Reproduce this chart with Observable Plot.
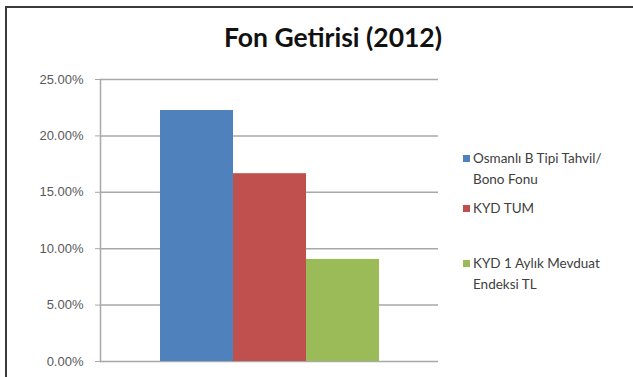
<!DOCTYPE html>
<html>
<head>
<meta charset="utf-8">
<script src="https://cdn.jsdelivr.net/npm/d3@7"></script>
<script src="https://cdn.jsdelivr.net/npm/@observablehq/plot@0.6"></script>
<style>
  html, body { margin: 0; padding: 0; background: #fff; }
  #wrap { position: relative; width: 633px; height: 377px; overflow: hidden; background: #fff; }
  #border { position: absolute; left: 5px; top: 6px; width: 640px; height: 400px; border-left: 2px solid #3a3a3a; border-top: 2px solid #3a3a3a; }
  #title { position: absolute; left: 0; width: 666px; top: 21px; text-align: center; font-family: Lato, "Open Sans", sans-serif; font-weight: 700; font-size: 26.5px; color: #111; }
  #chart { position: absolute; left: 0; top: 0; }
  .leg { position: absolute; left: 463px; font-family: Lato, "Open Sans", sans-serif; font-size: 13.5px; line-height: 21px; color: #404040; }
  .leg .sw { position: absolute; left: 0; top: 7px; width: 7px; height: 7px; }
  .leg .tx { position: absolute; left: 10px; white-space: nowrap; }
</style>
</head>
<body>
<div id="wrap">
  <div id="chart"></div>
  <div id="border"></div>
  <div id="title"></div>
  <div id="legend"></div>
</div>
<script>
const titleText = "Fon Getirisi (2012)";
const series = ["Osmanlı B Tipi Tahvil/ Bono Fonu", "KYD TUM", "KYD 1 Aylık Mevduat Endeksi TL"];
const legendLines = [["Osmanlı B Tipi Tahvil/", "Bono Fonu"], ["KYD TUM"], ["KYD 1 Aylık Mevduat", "Endeksi TL"]];
const values = [0.2225, 0.1665, 0.0905];
const colors = ["#4F81BD", "#C0504D", "#9BBB59"];
const yTicks = [0, 0.05, 0.10, 0.15, 0.20, 0.25];
const legendTops = [148, 198, 253];

const data = series.map((s, i) => ({series: s, value: values[i]}));

const plot = Plot.plot({
  width: 633,
  height: 377,
  marginLeft: 100,
  marginRight: 195,
  marginTop: 79,
  marginBottom: 16,
  style: {fontFamily: "'Liberation Sans', Arial, sans-serif", fontSize: "13px", color: "#595959", background: "transparent"},
  x: {domain: series, paddingInner: 0, paddingOuter: 0.79, axis: null},
  y: {domain: [0, 0.25], ticks: yTicks, axis: null},
  color: {domain: series, range: colors},
  marks: [
    Plot.gridY(yTicks, {stroke: "#a8a8a8", strokeOpacity: 1, strokeWidth: 1.5}),
    Plot.barY(data, {x: "series", y: "value", fill: "series"}),
    Plot.frame({anchor: "left", stroke: "#a8a8a8", strokeWidth: 1.5}),
    Plot.axisY(yTicks, {tickFormat: d3.format(".2%"), tickSize: 5, tickPadding: 12, stroke: "#a8a8a8", fill: "#595959", label: null})
  ]
});
document.getElementById("chart").appendChild(plot);
document.getElementById("title").textContent = titleText;

const leg = document.getElementById("legend");
legendLines.forEach((lines, i) => {
  const d = document.createElement("div");
  d.className = "leg";
  d.style.top = legendTops[i] + "px";
  const sw = document.createElement("div");
  sw.className = "sw";
  sw.style.background = colors[i];
  d.appendChild(sw);
  const tx = document.createElement("div");
  tx.className = "tx";
  tx.innerHTML = lines.map(l => l.replace(/&/g, "&amp;")).join("<br>");
  d.appendChild(tx);
  leg.appendChild(d);
});
</script>
</body>
</html>
